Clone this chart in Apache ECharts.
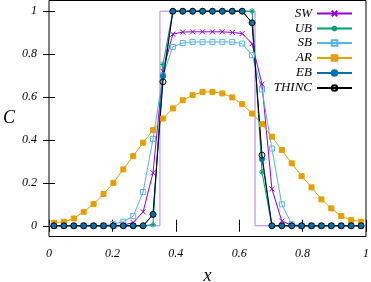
<!DOCTYPE html>
<html><head><meta charset="utf-8">
<script src="https://cdn.jsdelivr.net/npm/echarts@6/dist/echarts.min.js"></script>
<style>html,body{margin:0;padding:0;background:#fff}#c{width:371px;height:282px}</style>
</head><body><div id="c"></div>
<script>
// cell centres (32 cells)
const xs = [0.015625,0.046875,0.078125,0.109375,0.140625,0.171875,0.203125,0.234375,
            0.265625,0.296875,0.328125,0.359375,0.390625,0.421875,0.453125,0.484375,
            0.515625,0.546875,0.578125,0.609375,0.640625,0.671875,0.703125,0.734375,
            0.765625,0.796875,0.828125,0.859375,0.890625,0.921875,0.953125,0.984375];
const SW = [0,0,0,0,0,0,0,0.003,0.015,0.065,0.247,0.72,0.893,0.903,0.904,0.904,
            0.904,0.904,0.901,0.896,0.849,0.66,0.172,0.022,0.002,0,0,0,0,0,0,0];
const UB = [0,0,0,0,0,0,0,0,0,0,0.005,0.752,1,1,1,1,
            1,1,1,1,1,0.25,0,0,0,0,0,0,0,0,0,0];
const SB = [0,0,0,0,0,0,0.008,0.019,0.045,0.157,0.405,0.70,0.834,0.852,0.857,0.857,
            0.857,0.857,0.857,0.849,0.795,0.635,0.36,0.10,0.007,0,0,0,0,0,0,0];
const AR = [0.014,0.019,0.034,0.065,0.101,0.148,0.200,0.263,0.325,0.387,0.446,0.500,0.547,0.585,0.609,0.624,
            0.624,0.617,0.598,0.567,0.523,0.474,0.415,0.353,0.291,0.231,0.179,0.123,0.081,0.045,0.027,0.019];
const EB = [0,0,0,0,0,0,0,0,0,0,0.053,0.697,1,1,1,1,
            1,1,1,1,0.947,0.31,0,0,0,0,0,0,0,0,0,0];
const THINC = [0,0,0,0,0,0,0,0,0,0,0.053,0.671,1,1,1,1,
               1,1,1,1,0.946,0.329,0,0,0,0,0,0,0,0,0,0];
const exactX = [0,0.35,0.35,0.65,0.65,1];
const exactY = [0,0,1,1,0,0];
const xTicks = [0,0.2,0.4,0.6,0.8,1];
const yTicks = [0,0.2,0.4,0.6,0.8,1];
const names = ['SW','UB','SB','AR','EB','THINC'];

const FONT = 'Liberation Serif';
const pair = (x, y) => x.map((v, i) => [v, y[i]]);
const cross = 'path://M0,0L10,10M10,0L0,10';
const star = 'path://M5,0L5,10M0,5L10,5M1.5,1.5L8.5,8.5M8.5,1.5L1.5,8.5';

function mk(name, data, color, symbol, size, extra) {
  return Object.assign({
    name, type: 'line', data: pair(xs, data), symbol, symbolSize: size,
    color: color,
    lineStyle: { color: color, width: 1 },
    itemStyle: { color: color, borderColor: color, borderWidth: 1 },
    emphasis: { disabled: true }, silent: true
  }, extra || {});
}

const series = [
  { name: 'exact', type: 'line', data: pair(exactX, exactY), symbol: 'none',
    lineStyle: { color: '#b77ff0', width: 1 }, silent: true, z: 1 },
  mk('SW', SW, '#9400d3', cross, 5),
  mk('UB', UB, '#009e73', star, 6),
  mk('SB', SB, '#56b4e9', 'rect', 5, { itemStyle: { color: 'rgba(255,255,255,0)', borderColor: '#56b4e9', borderWidth: 1 } }),
  mk('AR', AR, '#e69f00', 'rect', 5),
  mk('EB', EB, '#0072b2', 'circle', 5),
  mk('THINC', THINC, '#000000', 'circle', 6, { itemStyle: { color: 'rgba(255,255,255,0)', borderColor: '#000', borderWidth: 1 } })
];

const rowCenters = [13.5, 28.5, 43, 58, 73, 88];
const legends = names.map((n, i) => ({
  data: [n], orient: 'vertical', right: 18, top: rowCenters[i] - 6.5,
  align: 'right', itemWidth: 35, itemHeight: 7, padding: 0, selectedMode: false,
  textStyle: { fontFamily: FONT, fontStyle: 'italic', fontSize: 13, color: '#000', lineHeight: 13 }
}));

const lbl = { fontFamily: FONT, fontStyle: 'italic', fontSize: 12, color: '#000' };
const chart = echarts.init(document.getElementById('c'), null, { renderer: 'canvas' });
chart.setOption({
  animation: false,
  backgroundColor: '#fff',
  grid: { left: 49, right: 5, top: 0.5, bottom: 45.5, outerBoundsMode: 'none', containLabel: false,
          show: true, borderColor: '#000', borderWidth: 1 },
  legend: legends,
  xAxis: [{
    type: 'value', min: 0, max: 1, interval: 0.2,
    axisLine: { show: false }, splitLine: { show: false },
    axisTick: { inside: true, length: 6, lineStyle: { color: '#000' } },
    axisLabel: Object.assign({ margin: 11, formatter: v => String(+v.toFixed(1)) }, lbl),
    name: 'x', nameLocation: 'middle', nameGap: 31,
    nameTextStyle: { fontFamily: FONT, fontStyle: 'italic', fontSize: 18, color: '#000' }
  }, {
    type: 'value', min: 0, max: 1, interval: 0.2, position: 'top',
    axisLine: { show: false }, splitLine: { show: false },
    axisTick: { inside: true, length: 6, lineStyle: { color: '#000' } },
    axisLabel: { show: false }
  }],
  yAxis: [{
    type: 'value', min: -0.05, max: 1.05,
    axisLine: { show: false }, splitLine: { show: false },
    axisTick: { inside: true, length: 6, lineStyle: { color: '#000' }, customValues: yTicks },
    axisLabel: Object.assign({ margin: 12, customValues: yTicks, formatter: v => String(+(+v).toFixed(1)) }, lbl),
    name: 'C', nameLocation: 'middle', nameGap: 34, nameRotate: 0,
    nameTextStyle: { fontFamily: FONT, fontStyle: 'italic', fontSize: 18, color: '#000' }
  }, {
    type: 'value', min: -0.05, max: 1.05, position: 'right',
    axisLine: { show: false }, splitLine: { show: false },
    axisTick: { inside: true, length: 6, lineStyle: { color: '#000' }, customValues: yTicks },
    axisLabel: { show: false }
  }],
  series: series
});
</script></body></html>
